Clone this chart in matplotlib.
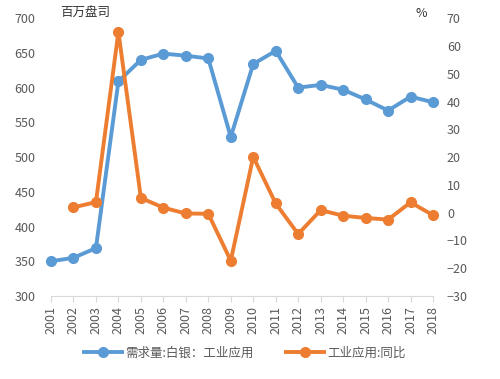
import matplotlib
matplotlib.use("Agg")
import matplotlib.pyplot as plt

plt.rcParams['font.family'] = ['Noto Sans CJK SC', 'DejaVu Sans']

# data
years = [str(y) for y in range(2001, 2019)]
demand = [350, 355, 369, 609, 640, 649, 646, 642, 529, 634, 653,
          600, 604, 597, 583, 567, 587, 579]
yoy = [None, 1.9, 3.8, 65.1, 5.3, 1.8, -0.3, -0.4, -17.3, 20.1, 3.3,
       -7.7, 0.9, -1.1, -1.9, -2.5, 3.7, -0.9]

blue = '#5B9BD5'
orange = '#ED7D31'
grey = '#595959'

fig = plt.figure(figsize=(5, 3.79), dpi=100)
ax = fig.add_axes([0.102, 0.219, 0.764, 0.733])
ax2 = ax.twinx()

x = list(range(len(years)))
l1, = ax.plot(x, demand, color=blue, lw=2.8, marker='o', ms=7,
              label='需求量:白银：工业应用', zorder=3, clip_on=False)
xs = [i for i, v in zip(x, yoy) if v is not None]
ys = [v for v in yoy if v is not None]
l2, = ax2.plot(xs, ys, color=orange, lw=2.8, marker='o', ms=7,
               label='工业应用:同比', zorder=3, clip_on=False)

ax.set_ylim(300, 700)
ax.set_yticks(range(300, 701, 50))
ax2.set_ylim(-30, 70)
ax2.set_yticks(range(-30, 71, 10))
ax.set_xlim(0, len(years) - 1)
ax.set_xticks(x)
ax.set_xticklabels(years, rotation=90)

for a in (ax, ax2):
    for s in ('top', 'left', 'right'):
        a.spines[s].set_visible(False)
    a.spines['bottom'].set_color('#D9D9D9')
    a.tick_params(axis='y', length=0, colors=grey, labelsize=9)
ax.tick_params(axis='x', colors=grey, labelsize=9, length=4, color='#D9D9D9')
ax.tick_params(axis='y', pad=11)
ax2.tick_params(axis='y', pad=10)
ax2.spines['bottom'].set_visible(False)

fig.text(0.12, 0.965, '百万盘司', fontsize=9, color='#333333', va='center')
fig.text(0.83, 0.965, '%', fontsize=9, color='#333333', va='center')

fig.legend(handles=[l1, l2], loc='center', bbox_to_anchor=(0.49, 0.068),
           ncol=2, frameon=False, fontsize=9, handlelength=3,
           handletextpad=0.3, columnspacing=2.6, labelcolor=grey)

fig.savefig('out.png', dpi=100)
